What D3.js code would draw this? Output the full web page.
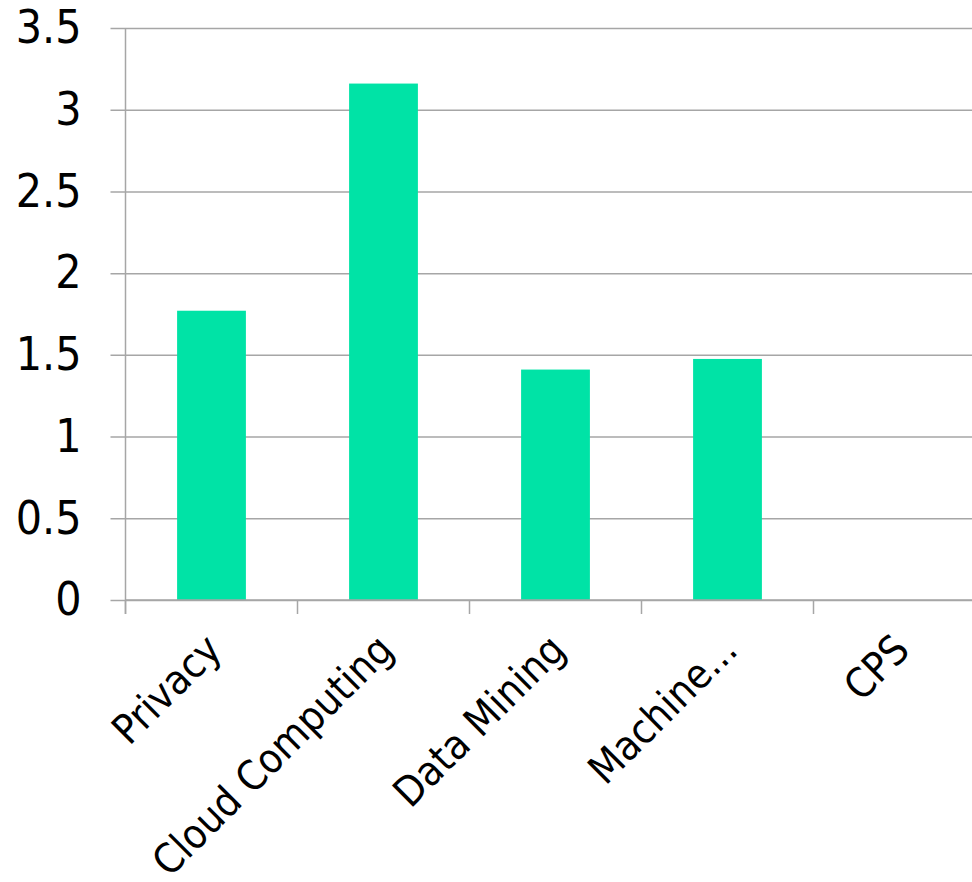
<!DOCTYPE html>
<html>
<head>
<meta charset="utf-8">
<script src="https://d3js.org/d3.v7.min.js"></script>
<style>
	body { margin: 0; background: #fff; }
	text { font-family: "DejaVu Sans Condensed", "DejaVu Sans", sans-serif; fill: #000; }
</style>
</head>
<body>
<svg width="972" height="882"></svg>
<script>
	// chart data
	var categories = ["Privacy", "Cloud Computing", "Data Mining", "Machine...", "CPS"];
	var values = [1.77, 3.16, 1.41, 1.475, 0];
	var yTicks = [0, 0.5, 1, 1.5, 2, 2.5, 3, 3.5];

	var svg = d3.select("svg");
	var mLeft = 125.5, mRight = 985.5, mTop = 28, mBottom = 600;

	var x = d3.scaleBand()
		.domain(categories)
		.range([mLeft, mRight])
		.paddingInner(0.6)
		.paddingOuter(0.3);

	var y = d3.scaleLinear()
		.domain([0, 3.5])
		.range([mBottom, mTop]);

	// gridlines + y labels
	var yAxis = d3.axisLeft(y)
		.tickValues(yTicks)
		.tickSize(-(mRight - mLeft))
		.tickFormat(d3.format("~g"));
	var gy = svg.append("g")
		.attr("transform", "translate(" + mLeft + ",0)")
		.call(yAxis);
	gy.select(".domain").remove();
	gy.selectAll(".tick line")
		.attr("x1", -15)
		.attr("stroke", "#a6a6a6")
		.attr("stroke-width", 1.5);
	gy.selectAll(".tick text")
		.style("font-size", "46px")
		.attr("x", -44);

	// vertical axis line
	svg.append("line")
		.attr("x1", mLeft).attr("x2", mLeft)
		.attr("y1", mTop).attr("y2", mBottom + 14)
		.attr("stroke", "#a6a6a6")
		.attr("stroke-width", 1.5);

	// bars
	svg.append("g")
		.selectAll("rect")
		.data(values)
		.enter()
		.append("rect")
		.attr("x", function (d, i) { return x(categories[i]); })
		.attr("width", x.bandwidth())
		.attr("y", function (d) { return y(d); })
		.attr("height", function (d) { return mBottom - y(d); })
		.attr("fill", "#00e3a6");

	// x axis with category ticks on band edges
	var gx = svg.append("g")
		.attr("transform", "translate(0," + mBottom + ")");
	gx.append("line")
		.attr("x1", mLeft).attr("x2", 972)
		.attr("stroke", "#a6a6a6")
		.attr("stroke-width", 1.5);
	gx.selectAll(".edge")
		.data(categories)
		.enter()
		.append("line")
		.attr("class", "edge")
		.attr("x1", function (d) { return x(d) - x.step() * x.paddingOuter(); })
		.attr("x2", function (d) { return x(d) - x.step() * x.paddingOuter(); })
		.attr("y1", 0).attr("y2", 14)
		.attr("stroke", "#a6a6a6")
		.attr("stroke-width", 1.5);

	gx.selectAll(".lbl")
		.data(categories)
		.enter()
		.append("text")
		.attr("class", "lbl")
		.attr("text-anchor", "end")
		.style("font-size", "41px")
		.attr("transform", function (d) {
			return "translate(" + (x(d) + x.bandwidth() / 2 + 2) + ",42) rotate(-45)";
		})
		.attr("dy", "0.35em")
		.text(function (d) { return d; });
</script>
</body>
</html>
